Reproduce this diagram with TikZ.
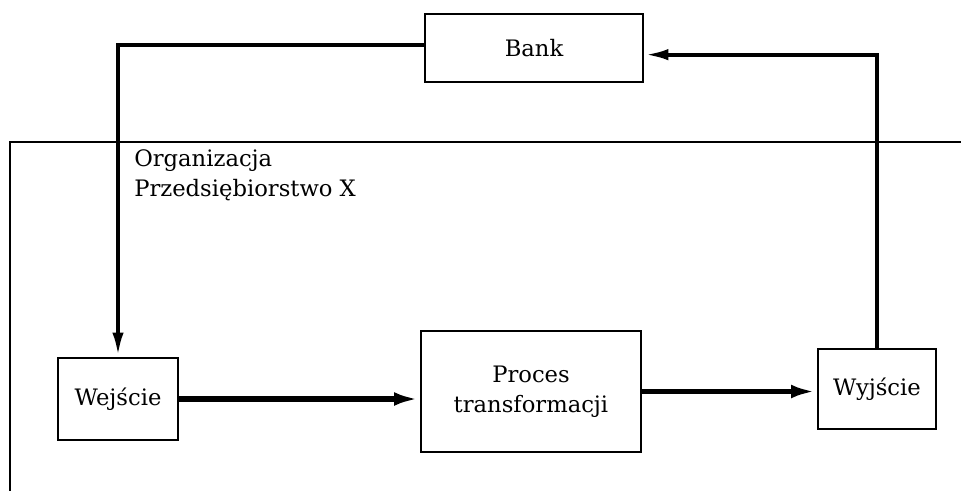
\documentclass[tikz,border=0pt]{standalone}
\usepackage{fontspec}
\setmainfont{DejaVu Serif}
\usetikzlibrary{arrows.meta}
\begin{document}
\begin{tikzpicture}[x=0.75pt,y=-0.75pt,
  lbl/.style={font=\fontsize{17}{22.5}\selectfont},
  box/.style={draw,line width=2.2pt,inner sep=0pt,align=center,lbl},
  arr/.style={line width=3pt,-{Latex[length=18pt,width=8.5pt]}},
  flow/.style={line width=4pt,-{Latex[length=19pt,width=10pt]}}]
\useasboundingbox (0,0) rectangle (961,490);
% organization frame
\draw[line width=1.6pt] (961,142) -- (10,142) -- (10,492);
\node[anchor=north west,align=left,inner sep=0pt,lbl] (org) at (134,149) {Organizacja\\Przedsiębiorstwo X};
% boxes
\node[box,minimum width=163.5pt,minimum height=51pt] (bank) at (534,48) {Bank};
\node[box,minimum width=90pt,minimum height=61.5pt] (wej) at (118,399) {Wejście};
\node[box,minimum width=165pt,minimum height=90.75pt] (proc) at (531,391.5) {Proces\\transformacji};
\node[box,minimum width=88.5pt,minimum height=60pt] (wyj) at (877,389) {Wyjście};
% connectors
\draw[arr] ([yshift=2.25pt]bank.west) -| (wej.north);
\draw[arr] (wyj.north) |- ([yshift=-5pt]bank.east);
\draw[flow] (wej.east) -- (wej.east -| proc.west);
\draw[flow] (proc.east) -- (proc.east -| wyj.west);
\end{tikzpicture}
\end{document}
